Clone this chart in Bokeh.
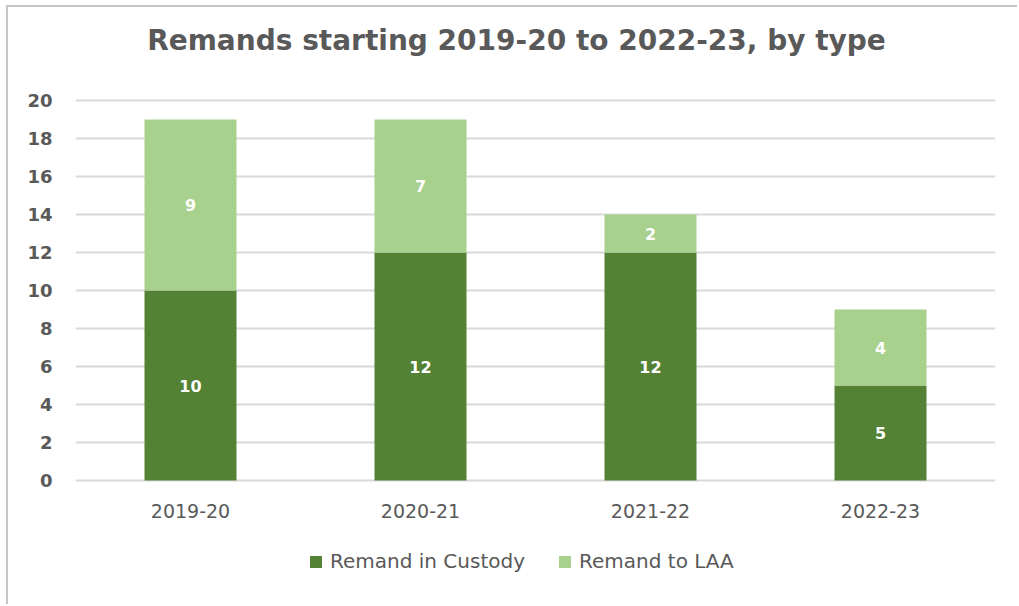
from bokeh.plotting import figure
from bokeh.models import (ColumnDataSource, LabelSet, Label, Legend, LegendItem, FactorRange,
                          Range1d, FixedTicker)
from bokeh.core.properties import value
from bokeh.embed import file_html
from bokeh.resources import INLINE

years = ["2019-20", "2020-21", "2021-22", "2022-23"]
custody = [10, 12, 12, 5]
laa = [9, 7, 2, 4]
series = ["Remand in Custody", "Remand to LAA"]
colors = ["#548235", "#A9D18E"]
y_ticks = [0, 2, 4, 6, 8, 10, 12, 14, 16, 18, 20]
title_text = "Remands starting 2019-20 to 2022-23, by type"

FONT = "DejaVu Sans"
GRAY = "#595959"

# layout: plot area from y=0 (480px) to y=20 (100px); frame extended over the whole height
W, H = 1011, 599
PX_PER_UNIT = 19.0
Y0_FROM_BOTTOM = 126  # px between value 0 and the canvas bottom
y_lo = -Y0_FROM_BOTTOM / PX_PER_UNIT
y_hi = (H - Y0_FROM_BOTTOM) / PX_PER_UNIT

src = ColumnDataSource(dict(year=years, custody=custody, laa=laa))

p = figure(x_range=FactorRange(*years, range_padding=0), y_range=Range1d(y_lo, y_hi),
           width=W, height=H, output_backend="svg", toolbar_location=None,
           min_border_left=67, min_border_right=24, min_border_top=0, min_border_bottom=0)
p.styles = {"margin-left": "6px", "margin-top": "5px",
            "border-left": "2px solid #c6c6c6", "border-top": "2px solid #c6c6c6"}
p.outline_line_color = None
p.background_fill_color = "white"
p.border_fill_color = "white"

r = p.vbar_stack(["custody", "laa"], x="year", width=0.4, source=src,
                 color=colors, line_color=None)

# data labels
lab_x, lab_y, lab_t = [], [], []
for y, c, l in zip(years, custody, laa):
    lab_x += [y, y]
    lab_y += [c / 2, c + l / 2]
    lab_t += [str(c), str(l)]
lsrc = ColumnDataSource(dict(x=lab_x, y=lab_y, t=lab_t))
p.add_layout(LabelSet(x="x", y="y", text="t", source=lsrc, text_color="white",
                      text_font=value(FONT), text_font_size="16px", text_font_style="bold",
                      text_align="center", text_baseline="middle"))

# y axis
p.yaxis.ticker = FixedTicker(ticks=y_ticks)
p.yaxis.axis_line_color = None
p.yaxis.major_tick_line_color = None
p.yaxis.minor_tick_line_color = None
p.yaxis.major_tick_out = 0
p.yaxis.major_label_text_font = FONT
p.yaxis.major_label_text_color = GRAY
p.yaxis.major_label_text_font_size = "18px"
p.yaxis.major_label_text_font_style = "bold"
p.yaxis.major_label_standoff = 23

# x axis drawn as category labels under the bars
p.xaxis.visible = False
xsrc = ColumnDataSource(dict(x=years, y=[0] * len(years), t=years))
p.add_layout(LabelSet(x="x", y="y", text="t", source=xsrc, y_offset=-30,
                      text_font=value(FONT), text_font_size="19px", text_color=GRAY,
                      text_align="center", text_baseline="middle"))

p.xgrid.grid_line_color = None
p.ygrid.grid_line_color = "#d9d9d9"
p.ygrid.grid_line_width = 2

# title (screen units relative to the frame bottom-left)
p.add_layout(Label(x=441, y=566, x_units="screen", y_units="screen", text=title_text,
                   text_font=FONT, text_font_size="28px", text_font_style="bold",
                   text_color=GRAY, text_align="center", text_baseline="alphabetic"))

legend = Legend(items=[LegendItem(label=series[0], renderers=[r[0]]),
                       LegendItem(label=series[1], renderers=[r[1]])],
                orientation="horizontal", location=(233, 33),
                label_text_font=FONT, label_text_font_size="20px", label_text_color=GRAY,
                glyph_width=15, glyph_height=15, label_standoff=7, spacing=32,
                padding=0, margin=0, border_line_color=None, background_fill_alpha=0)
p.add_layout(legend, "center")

open("out.html", "w").write(file_html(p, INLINE))
